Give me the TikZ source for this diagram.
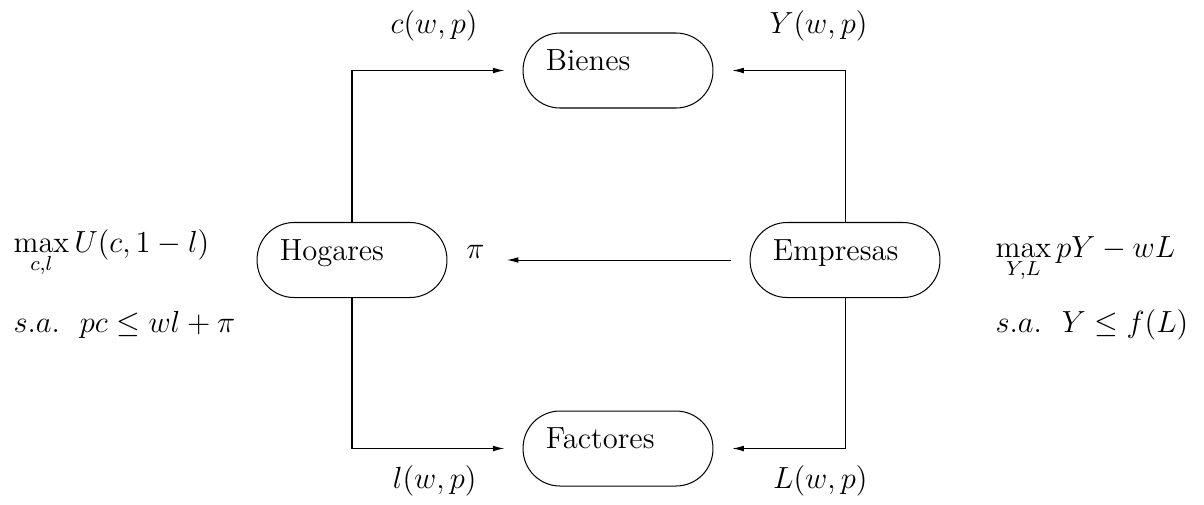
\documentclass[tikz,border=0pt]{standalone}
\usetikzlibrary{arrows.meta}

\begin{document}
\begin{tikzpicture}[x=1.38mm,y=1.38mm,
    every node/.style={font=\large},
    caja/.style={draw,rounded corners=5.1mm,minimum width=26.2mm,
      minimum height=10.35mm,text width=19.9mm,align=left,
      text height=8pt,text depth=8pt},
    flecha/.style={-{Latex[length=4.5pt,width=2.2pt]}},
    etiq/.style={inner sep=0pt}]
  \useasboundingbox (0,0) rectangle (120.4,50.4);
  %
  \node[caja] (bienes)   at (61.8,43.35) {Bienes};
  \node[caja] (factores) at (61.8,5.55)  {Factores};
  \node[caja] (hogares)  at (35.2,24.4)  {Hogares};
  \node[caja] (empresas) at (84.5,24.4)  {Empresas};
  %
  \draw[flecha,shorten >=2.5mm] (hogares.north) |- (bienes.west);
  \draw[flecha,shorten >=2.6mm] (empresas.north) |- (bienes.east);
  \draw[flecha,shorten >=2.5mm] (hogares.south) |- (factores.west);
  \draw[flecha,shorten >=2.6mm] (empresas.south) |- (factores.east);
  %
  \node[etiq,anchor=base] (pi) at (47.55,24.6) {$\pi$};
  \draw[flecha,shorten <=2.5mm,shorten >=3mm] (empresas.west) -- (empresas.west -| pi.east);
  %
  \node[etiq,anchor=base east] (cwp) at (47.8,47.1) {$c(w,p)$};
  \node[etiq,anchor=base east] (Ywp) at (86.8,47.1) {$Y(w,p)$};
  \node[etiq,anchor=base east] (lwp) at (47.7,1.6)  {$l(w,p)$};
  \node[etiq,anchor=base east] (Lwp) at (86.8,1.6)  {$L(w,p)$};
  %
  \node[etiq,anchor=base west] (maxh) at (1.3,25.2)  {$\max\limits_{c,l} U(c,1-l)$};
  \node[etiq,anchor=base west] (sah)  at (1.3,17.2)  {$s.a.\ \ pc \leq wl+\pi$};
  \node[etiq,anchor=base west] (maxe) at (99.5,24.7) {$\max\limits_{Y,L} pY-wL$};
  \node[etiq,anchor=base west] (sae)  at (99.5,17.2) {$s.a.\ \ Y \leq f(L)$};
\end{tikzpicture}
\end{document}
